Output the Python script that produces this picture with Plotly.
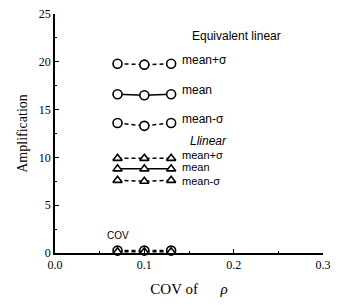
import plotly.graph_objects as go

x_cov = [0.07, 0.10, 0.13]
eq_plus = [19.8, 19.7, 19.8]
eq_mean = [16.6, 16.5, 16.6]
eq_minus = [13.6, 13.3, 13.6]
lin_plus = [9.9, 9.9, 9.9]
lin_mean = [8.8, 8.8, 8.8]
lin_minus = [7.6, 7.5, 7.6]
cov_eq = [0.25, 0.25, 0.25]
cov_lin = [0.12, 0.12, 0.12]

series = [
    (eq_plus, "circle", "dash"),
    (eq_mean, "circle", "solid"),
    (eq_minus, "circle", "dash"),
    (lin_plus, "triangle-up", "dash"),
    (lin_mean, "triangle-up", "solid"),
    (lin_minus, "triangle-up", "dash"),
    (cov_eq, "circle", "dash"),
    (cov_lin, "triangle-up", "dash"),
]

fig = go.Figure()
for ys, sym, dash in series:
    fig.add_trace(go.Scatter(
        x=x_cov, y=ys, mode="lines+markers",
        line=dict(color="black", width=1.5, dash="4px,3px" if dash == "dash" else "solid"),
        marker=dict(symbol=sym, size=9 if sym == "circle" else 8,
                    color="white", line=dict(width=1.6, color="black")),
        showlegend=False, cliponaxis=False))

sans = "Liberation Sans"
ann = [
    (0.140, 20.2, "mean+σ", 12),
    (0.140, 17.0, "mean", 12),
    (0.140, 14.0, "mean-σ", 12),
    (0.140, 10.3, "mean+σ", 11),
    (0.140, 9.0, "mean", 11),
    (0.140, 7.6, "mean-σ", 11),
]
for ax_, ay_, t, fs in ann:
    fig.add_annotation(x=ax_, y=ay_, text=t, showarrow=False, xanchor="left",
                       yanchor="middle", height=fs if fs == 11 else None,
                       font=dict(family=sans, size=fs, color="black"))
fig.add_annotation(x=0.203, y=22.7, text="Equivalent linear", showarrow=False,
                   font=dict(family=sans, size=12, color="black"))
fig.add_annotation(x=0.172, y=11.7, text="<i>Llinear</i>", showarrow=False,
                   font=dict(family=sans, size=12, color="black"))
fig.add_annotation(x=0.071, y=1.8, text="COV", showarrow=False,
                   font=dict(family=sans, size=10, color="black"))

serif = "Liberation Serif"
fig.update_layout(
    width=338, height=305,
    margin=dict(l=55, r=7, t=12, b=52),
    plot_bgcolor="white", paper_bgcolor="white",
    font=dict(family=serif, color="black"),
    xaxis=dict(range=[0, 0.3], tickvals=[0, 0.1, 0.2, 0.3],
               ticktext=["0.0", "0.1", "0.2", "0.3"],
               showgrid=False, zeroline=False, showline=True, linecolor="black",
               linewidth=1.5, ticks="inside", ticklen=4, tickcolor="black",
               tickfont=dict(family=serif, size=12), ticklabeloverflow="allow",
               minor=dict(tickvals=[0.05, 0.15, 0.25], ticks="inside", ticklen=2, tickcolor="black"),
               title=dict(text="COV of      <i>ρ</i>", font=dict(family=serif, size=15), standoff=12)),
    yaxis=dict(range=[0, 25], tickvals=[0, 5, 10, 15, 20, 25],
               showgrid=False, zeroline=False, showline=True, linecolor="black",
               linewidth=1.5, ticks="inside", ticklen=4, tickcolor="black",
               tickfont=dict(family=serif, size=12), ticklabeloverflow="allow",
               minor=dict(tickvals=[2.5, 7.5, 12.5, 17.5, 22.5], ticks="inside", ticklen=2, tickcolor="black"),
               title=dict(text="Amplification", font=dict(family=serif, size=14), standoff=8)),
)
fig.write_html("out.html", config={"displayModeBar": False},
               post_script="document.body.style.margin='0';document.body.style.overflow='hidden';")
